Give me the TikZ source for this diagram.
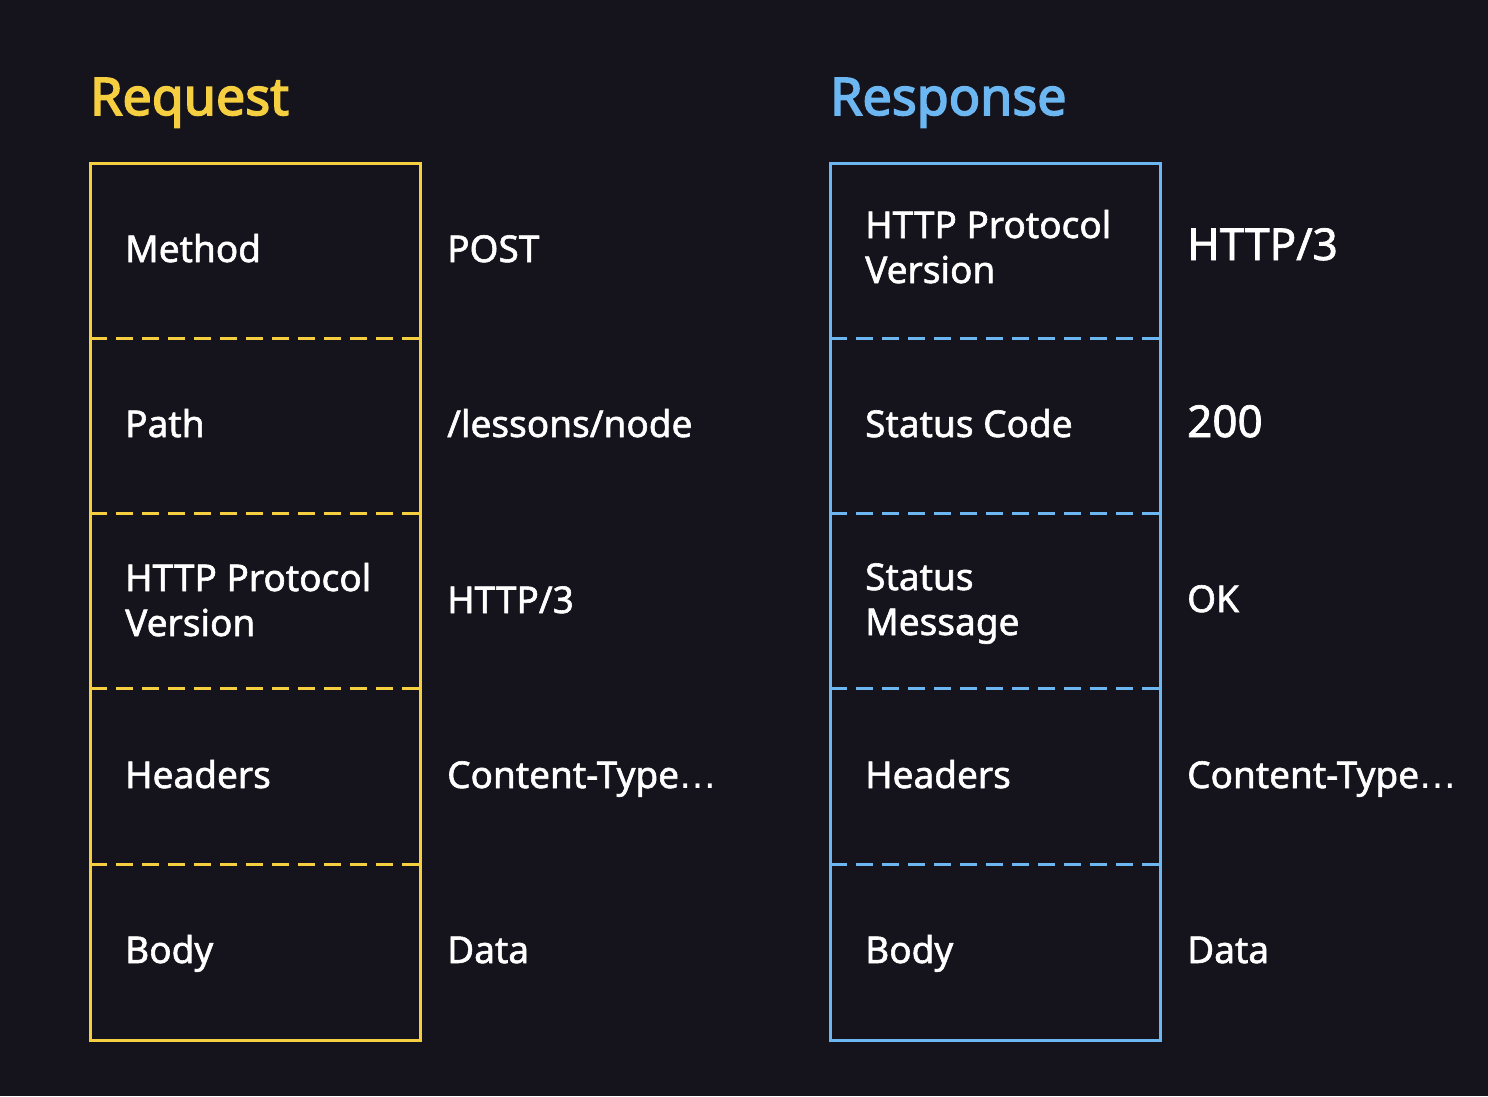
\documentclass[tikz,border=0pt]{standalone}
\usepackage{fontspec}
\setmainfont{Noto Sans}[FakeBold=1.6]
\newfontfamily\titlefont{Noto Sans}[FakeBold=3]
\newfontfamily\dvfont{DejaVu Sans}
\newcommand{\myellip}{{\dvfont …}}
\definecolor{bgc}{HTML}{15141D}
\definecolor{yel}{HTML}{F5CF3F}
\definecolor{blu}{HTML}{6CB7F2}
\begin{document}
\begin{tikzpicture}[x=1pt,y=-1pt,
  lbl/.style={anchor=base west,inner sep=0pt,text=white,font=\fontsize{37}{45}\selectfont,align=left},
  big/.style={anchor=base west,inner sep=0pt,text=white,font=\fontsize{44}{52}\selectfont},
  ttl/.style={anchor=base west,inner sep=0pt,font=\titlefont\fontsize{52}{60}\selectfont},
  frame/.style={line width=3pt},
  sep/.style={line width=3pt,dash pattern=on 17pt off 9pt}]
\fill[bgc] (0,0) rectangle (1488,1096);
\useasboundingbox (0,0) rectangle (1488,1096);
% titles
\node[ttl,text=yel] (reqT) at (90,115) {Request};
\node[ttl,text=blu] (resT) at (830,115) {Response};
% request box
\draw[frame,yel] (90,163) rectangle (420,1040);
\foreach \y in {338,513,688,864} \draw[sep,yel] (90,\y) -- (420,\y);
% response box
\draw[frame,blu] (830,163) rectangle (1160,1040);
\foreach \y in {338,513,688,864} \draw[sep,blu] (830,\y) -- (1160,\y);
% request labels
\node[lbl] (q1) at (125,262) {Method};
\node[lbl] (q2) at (125,437) {Path};
\node[lbl] (q3) at (125,636) {HTTP Protocol\\Version};
\node[lbl] (q4) at (125,788) {Headers};
\node[lbl] (q5) at (125,963) {Body};
\node[lbl] (qv1) at (447,262) {POST};
\node[lbl] (qv2) at (447,437) {/lessons/node};
\node[lbl] (qv3) at (447,613) {HTTP/3};
\node[lbl] (qv4) at (447,788) {Content-Type\myellip};
\node[lbl] (qv5) at (447,963) {Data};
% response labels
\node[lbl] (r1) at (865,283) {HTTP Protocol\\Version};
\node[lbl] (r2) at (865,437) {Status Code};
\node[lbl] (r3) at (865,635) {Status\\Message};
\node[lbl] (r4) at (865,788) {Headers};
\node[lbl] (r5) at (865,963) {Body};
\node[big] (rv1) at (1187,260) {HTTP/3};
\node[big] (rv2) at (1187,437) {200};
\node[lbl] (rv3) at (1187,612) {OK};
\node[lbl] (rv4) at (1187,788) {Content-Type\myellip};
\node[lbl] (rv5) at (1187,963) {Data};
\end{tikzpicture}
\end{document}
